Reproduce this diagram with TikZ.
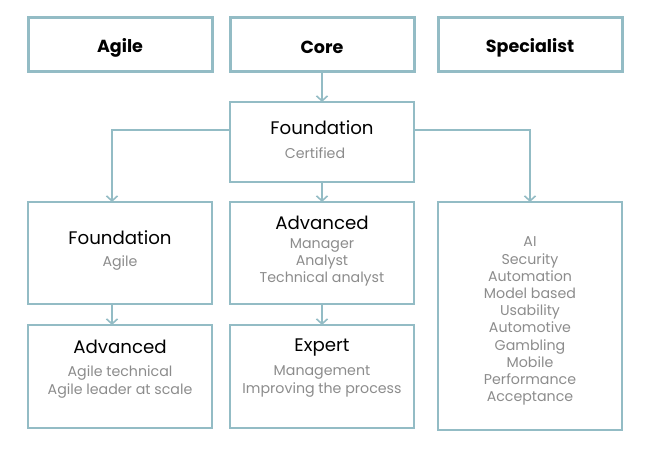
\documentclass[tikz,border=0pt]{standalone}
\usepackage{fontspec}
\setmainfont{Poppins}
\usetikzlibrary{arrows.meta}
\definecolor{edge}{HTML}{93BCC5}
\definecolor{greytext}{HTML}{8C8C8C}
\begin{document}
\begin{tikzpicture}[x=1pt,y=-1pt,
  headbox/.style={draw=edge,line width=3pt},
  plainbox/.style={draw=edge,line width=1.8pt},
  conn/.style={draw=edge,line width=1.8pt,-{Straight Barb[length=5pt,width=11pt,line width=1.6pt]}},
  headtxt/.style={font=\fontsize{17.5}{20}\selectfont\bfseries,text=black},
  titletxt/.style={font=\fontsize{18.2}{21}\selectfont,text=black},
  subtxt/.style={font=\fontsize{14.2}{17.2}\selectfont,text=greytext,align=center}]
\useasboundingbox (0,0) rectangle (645,455);
% header boxes
\draw[headbox] (28,17) rectangle (212,71);
\draw[headbox] (230,17) rectangle (414,71);
\draw[headbox] (438,17) rectangle (622,71);
\node[headtxt] (hagile) at (120,47.5) {Agile};
\node[headtxt] (hcore) at (322,47.5) {Core};
\node[headtxt] (hspec) at (530,47.5) {Specialist};
\coordinate (coreb) at (322,71);
% central foundation
\draw[plainbox] (230,102) rectangle (414,182);
\coordinate (cft) at (322,102);
\coordinate (cfb) at (322,182);
\coordinate (cfl) at (230,130);
\coordinate (cfr) at (414,130);
\node[titletxt] (cftitle) at (322,127.5) {Foundation};
\node[subtxt] (cfsub) at (315,153.5) {Certified};
% row 2
\draw[plainbox] (28,202) rectangle (212,304);
\coordinate (lft) at (112,202);
\coordinate (lfb) at (112,304);
\node[titletxt] (lftitle) at (120,237.5) {Foundation};
\node[subtxt] (lfsub) at (120,263.5) {Agile};
\draw[plainbox] (230,202) rectangle (414,304);
\coordinate (cat) at (322,202);
\coordinate (cab) at (322,304);
\node[titletxt] (catitle) at (322,222.5) {Advanced};
\node[subtxt,anchor=north] (casub) at (322,235) {Manager\\Analyst\\Technical analyst};
\draw[plainbox] (438,202) rectangle (622,430);
\coordinate (spt) at (530,202);
\node[subtxt,anchor=north] (splist) at (530,233.5) {AI\\Security\\Automation\\Model based\\Usability\\Automotive\\Gambling\\Mobile\\Performance\\Acceptance};
% row 3
\draw[plainbox] (28,325) rectangle (212,428);
\coordinate (lat) at (112,325);
\node[titletxt] (latitle) at (120,346.5) {Advanced};
\node[subtxt,anchor=north] (lasub) at (120,362.5) {Agile technical\\Agile leader at scale};
\draw[plainbox] (230,325) rectangle (414,428);
\coordinate (cet) at (322,325);
\node[titletxt] (cetitle) at (322,348) {Expert};
\node[subtxt,anchor=north] (cesub) at (322,362.5) {Management\\Improving the process};
% connectors
\draw[conn] (coreb) -- (cft);
\draw[conn] (cfb) -- (cat);
\draw[conn] (cab) -- (cet);
\draw[conn] (lfb) -- (lat);
\draw[conn] (cfl) -| (lft);
\draw[conn] (cfr) -| (spt);
\end{tikzpicture}
\end{document}
